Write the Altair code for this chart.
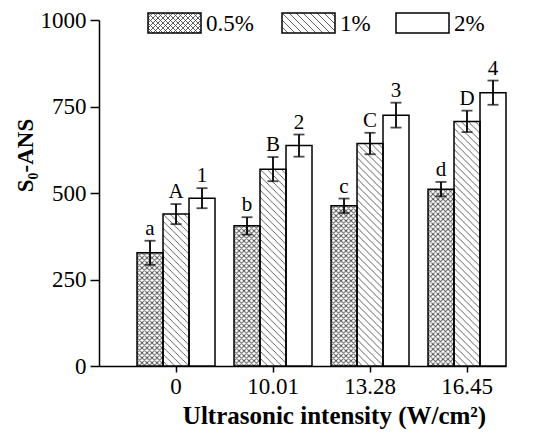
import altair as alt
import pandas as pd
from urllib.parse import quote

# ---- data ----
intensity = ["0", "10.01", "13.28", "16.45"]
conc = ["0.5%", "1%", "2%"]
val_05 = [327, 405, 463, 511]
val_1 = [439, 569, 643, 707]
val_2 = [485, 637, 725, 790]
err_05 = [35, 25, 21, 21]
err_1 = [29, 35, 31, 31]
err_2 = [29, 32, 36, 35]
lab_05 = ["a", "b", "c", "d"]
lab_1 = ["A", "B", "C", "D"]
lab_2 = ["1", "2", "3", "4"]

rows = []
for s, vals, errs, labs in [("0.5%", val_05, err_05, lab_05),
                            ("1%", val_1, err_1, lab_1),
                            ("2%", val_2, err_2, lab_2)]:
    for cat, v, e, l in zip(intensity, vals, errs, labs):
        rows.append({"intensity": cat, "conc": s, "value": v,
                     "lo": v - e, "hi": v + e, "label": l})
df = pd.DataFrame(rows)


def pattern_uri(w, h, path):
    svg = ("<svg xmlns='http://www.w3.org/2000/svg' width='100%' height='100%'>"
           "<defs><pattern id='p' patternUnits='userSpaceOnUse' width='" + str(w) +
           "' height='" + str(h) + "'><path d='" + path +
           "' stroke='#444' stroke-width='0.85' fill='none'/></pattern></defs>"
           "<rect width='100%' height='100%' fill='white'/>"
           "<rect width='100%' height='100%' fill='url(#p)'/></svg>")
    return "data:image/svg+xml," + quote(svg, safe="")


cross_uri = pattern_uri(5, 5, "M0,0L5,5M5,0L0,5M-1,4L1,6M4,-1L6,1M-1,1L1,-1M4,6L6,4")
hatch_uri = pattern_uri(7, 7, "M0,0L7,7M-1,6L1,8M6,-1L8,1")
uri_for = {"0.5%": cross_uri, "1%": hatch_uri}

FONT = "Liberation Serif"

x_enc = alt.X("intensity:N", sort=intensity,
              scale=alt.Scale(paddingInner=0.196, paddingOuter=0.196, align=1),
              axis=alt.Axis(title="Ultrasonic intensity (W/cm²)", labelAngle=0,
                            labelFontSize=23, titleFontSize=25, titleFontWeight="bold",
                            tickSize=6, labelPadding=3, titlePadding=5, titleX=235))
xo_enc = alt.XOffset("conc:N", sort=conc, scale=alt.Scale(paddingInner=0, paddingOuter=0))
y_enc = alt.Y("value:Q", scale=alt.Scale(domain=[0, 1000]),
              axis=alt.Axis(title="S₀-ANS", values=[0, 250, 500, 750, 1000], format="d",
                            labelFontSize=23, titleFontSize=23, titleFontWeight="bold",
                            tickSize=9, labelPadding=4, titlePadding=3, titleY=135))

base = alt.Chart(df)

bars_fill = base.mark_bar(fill="white", stroke=None).encode(
    x=x_enc, xOffset=xo_enc, y=y_enc, y2=alt.datum(0))

pattern = base.transform_filter("datum.conc != '2%'").transform_calculate(
    url="datum.conc == '0.5%' ? '" + cross_uri + "' : '" + hatch_uri + "'"
).mark_image(aspect=False).encode(
    x="intensity:N", xOffset="conc:N", y="value:Q", y2=alt.datum(0), url="url:N")

bars_outline = base.mark_bar(fillOpacity=0, stroke="black", strokeWidth=1.5).encode(
    x="intensity:N", xOffset="conc:N", y="value:Q", y2=alt.datum(0))

err_rule = base.mark_rule(color="black", strokeWidth=1.8).encode(
    x="intensity:N", xOffset="conc:N", y="lo:Q", y2="hi:Q")
cap_lo = base.mark_tick(color="black", thickness=1.8, size=11).encode(
    x="intensity:N", xOffset="conc:N", y="lo:Q")
cap_hi = base.mark_tick(color="black", thickness=1.8, size=11).encode(
    x="intensity:N", xOffset="conc:N", y="hi:Q")

labels = base.mark_text(font=FONT, fontSize=21, baseline="alphabetic", dy=-6,
                        color="black").encode(
    x="intensity:N", xOffset="conc:N", y="hi:Q", text="label:N")

# ---- manual legend (patterned swatches) ----
legend_layers = []
legend_x = {"0.5%": 49, "1%": 183, "2%": 297}
for s in conc:
    lx = legend_x[s]
    ld = alt.Data(values=[{"name": s}])
    box = dict(x=alt.value(lx), x2=alt.value(lx + 53), y=alt.value(-7), y2=alt.value(13))
    legend_layers.append(alt.Chart(ld).mark_rect(fill="white").encode(**box))
    if s in uri_for:
        legend_layers.append(alt.Chart(ld).mark_image(aspect=False).encode(
            url=alt.value(uri_for[s]), **box))
    legend_layers.append(alt.Chart(ld).mark_rect(fillOpacity=0, stroke="black",
                                                 strokeWidth=1.5).encode(**box))
    legend_layers.append(alt.Chart(ld).mark_text(font=FONT, fontSize=23, align="left",
                                                 baseline="middle", color="black").encode(
        x=alt.value(lx + 58), y=alt.value(4), text="name:N"))

chart = alt.layer(bars_fill, pattern, bars_outline, err_rule, cap_lo, cap_hi, labels,
                  *legend_layers).properties(
    width=407, height=346,
    autosize=alt.AutoSizeParams(type="none"),
    padding={"left": 91, "top": 12, "right": 42, "bottom": 63},
).configure_view(stroke=None).configure_axis(
    grid=False, domainColor="black", tickColor="black", labelColor="black",
    titleColor="black", domainWidth=1.5, tickWidth=1.5, labelFont=FONT, titleFont=FONT
).configure_text(font=FONT)

chart.save("out.html", embed_options={"renderer": "svg", "actions": False})
